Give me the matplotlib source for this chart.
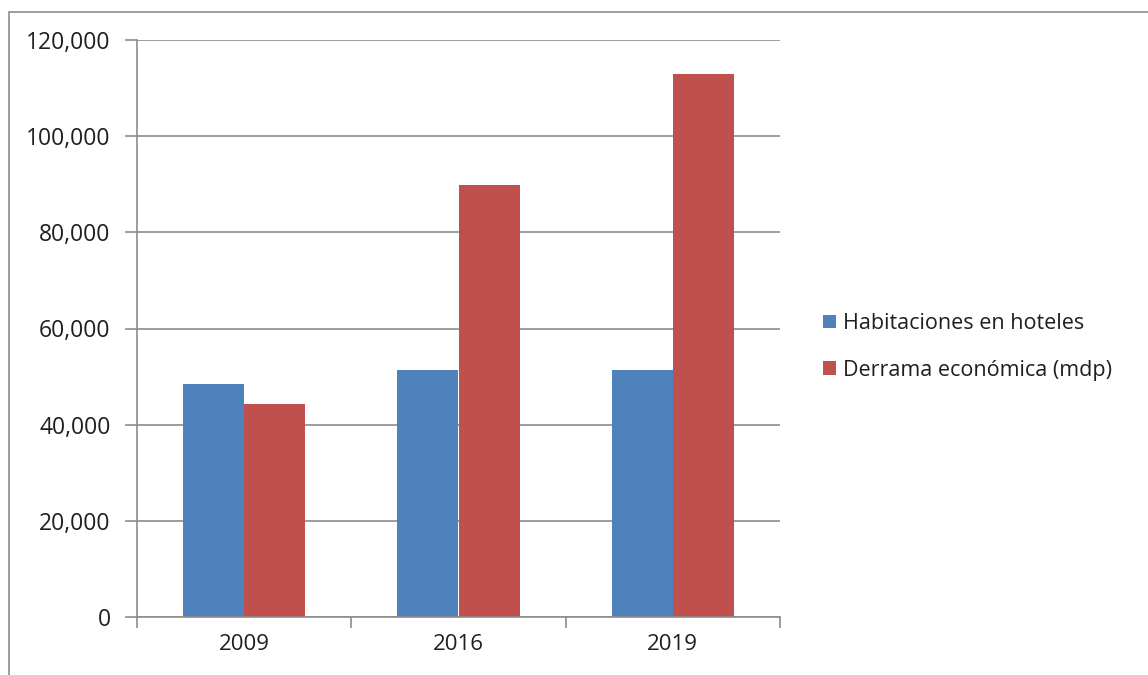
import numpy as np
import matplotlib.pyplot as plt
from matplotlib.patches import Rectangle

# Datos
years = ['2009', '2016', '2019']
habitaciones = [48500, 51400, 51400]
derrama = [44400, 89800, 113000]
y_ticks = [0, 20000, 40000, 60000, 80000, 100000, 120000]

BLUE = '#4F81BD'
RED = '#C0504D'
GRID = '#8C8C8C'
TEXT = '#1F1F1F'

plt.rcParams['font.family'] = ['Open Sans', 'DejaVu Sans']

fig = plt.figure(figsize=(11.48, 6.75), dpi=100)
ax = fig.add_axes([137 / 1148, 58 / 675, 643 / 1148, 577 / 675])

# borde del gráfico
fig.patches.append(Rectangle((9 / 1148, -0.05), 1.1, 0.05 + (675 - 12) / 675,
                             transform=fig.transFigure, fill=False,
                             edgecolor='#8C8C8C', linewidth=1.2))

x = np.arange(len(years))
w = 0.285
ax.bar(x - w / 2, habitaciones, w, color=BLUE, label='Habitaciones en hoteles', zorder=3)
ax.bar(x + w / 2, derrama, w, color=RED, label='Derrama económica (mdp)', zorder=3)

ax.set_xlim(-0.5, 2.5)
ax.set_ylim(0, 120000)
ax.set_yticks(y_ticks)
ax.set_yticklabels([f'{v:,}' for v in y_ticks])
ax.yaxis.grid(True, color=GRID, linewidth=1.2, zorder=0)

ax.set_xticks([-0.5, 0.5, 1.5, 2.5])
ax.set_xticklabels([])
ax.set_xticks(x, minor=True)
ax.set_xticklabels(years, minor=True)
ax.tick_params(axis='x', which='major', length=8, width=1.2, color=GRID)
ax.tick_params(axis='x', which='minor', length=0, pad=12, labelsize=16, labelcolor=TEXT)
ax.tick_params(axis='y', length=9, width=1.2, color=GRID, pad=10, labelsize=16.5, labelcolor=TEXT)

for s in ['top', 'right']:
    ax.spines[s].set_visible(False)
for s in ['left', 'bottom']:
    ax.spines[s].set_color(GRID)
    ax.spines[s].set_linewidth(1.2)
    ax.spines[s].set_zorder(4)

ax.legend(loc='center left', bbox_to_anchor=(823 / 1148, 328 / 675),
          bbox_transform=fig.transFigure, frameon=False, fontsize=15.5,
          borderpad=0, borderaxespad=0,
          handlelength=0.6, handleheight=0.6, handletextpad=0.35,
          labelspacing=1.2, labelcolor=TEXT)

fig.savefig('out.png', dpi=100)
